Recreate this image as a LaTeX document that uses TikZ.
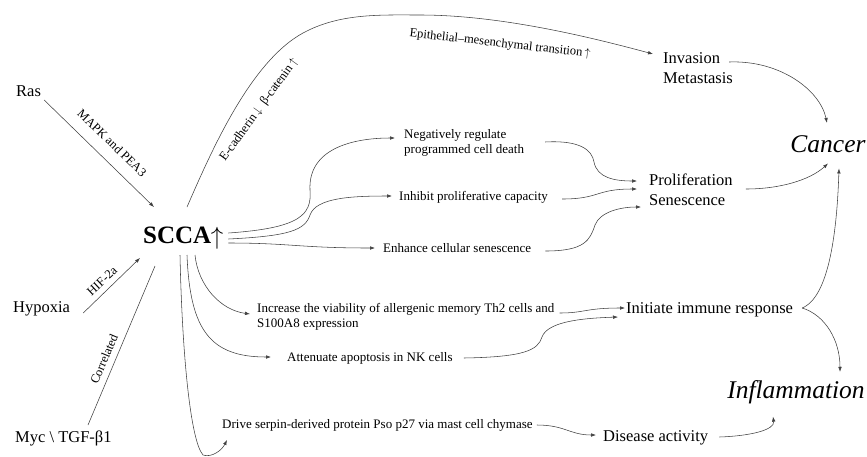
\documentclass[tikz,border=0pt]{standalone}
\usepackage{fontspec}
\setmainfont{Liberation Serif}[ItalicFont={Liberation Serif Italic},BoldFont={Liberation Serif Bold}]
\usetikzlibrary{arrows.meta,calc}
\begin{document}
\begin{tikzpicture}[x=1pt,y=-1pt,
  con/.style={black!75,line width=0.55pt},
  arr/.style={con,-{Latex[length=5pt,width=3.6pt]}},
  big/.style={font=\fontsize{16.5}{20.5}\selectfont,inner sep=0pt},
  small/.style={font=\fontsize{13}{15.5}\selectfont,inner sep=0pt},
  lab/.style={font=\fontsize{12.5}{14}\selectfont,inner sep=0pt},
  huge/.style={font=\fontsize{25.5}{30}\selectfont\itshape,inner sep=0pt}]
\useasboundingbox (0,0) rectangle (867,456);

% sources
\node[big,anchor=base west] (ras) at (16,96) {Ras};
\node[big,anchor=base west] (hyp) at (13,312) {Hypoxia};
\node[big,anchor=base west] (myc) at (15,442) {Myc \textbackslash{} TGF-β1};
\node[anchor=base west,inner sep=0pt,font=\fontsize{25}{30}\selectfont\bfseries] (scca) at (143,243) {SCCA};
\node[anchor=base,inner sep=0pt,font=\fontsize{27}{30}\selectfont] (up) at (217,244) {$\uparrow$};

% targets
\node[big,anchor=west,align=left] (inv) at (663,68) {Invasion\\Metastasis};
\node[big,anchor=west,align=left] (pro) at (649,190) {Proliferation\\Senescence};
\node[huge,anchor=base] (cancer) at (828,152) {Cancer};
\node[huge,anchor=base] (infl) at (796,398) {Inflammation};
\node[big,anchor=base west] (imm) at (626,313) {Initiate immune response};
\node[big,anchor=base west] (dis) at (603,441) {Disease activity};

% intermediate effects
\node[small,anchor=west,align=left] (neg) at (404,143) {Negatively regulate\\programmed cell death};
\node[small,anchor=base west] (inh) at (399,200) {Inhibit proliferative capacity};
\node[small,anchor=base west] (enh) at (383,252) {Enhance cellular senescence};
\node[small,anchor=west,align=left] (inc) at (257,317) {Increase the viability of allergenic memory Th2 cells and\\S100A8 expression};
\node[small,anchor=base west] (att) at (287,361) {Attenuate apoptosis in NK cells};
\node[small,anchor=base west] (drv) at (222,428) {Drive serpin-derived protein Pso p27 via mast cell chymase};

% edge labels
\node[lab,rotate=-44] (mapk) at (112,143) {MAPK and PEA3};
\node[lab,rotate=43] (hif) at (102,281) {HIF-2a};
\node[lab,rotate=67] (cor) at (104,359) {Correlated};
\node[lab,rotate=54] (ecad) at (259,110) {E-cadherin\,$\downarrow$\ \ β-catenin\,$\uparrow$};
\node[lab,rotate=-6.5] (emt) at (500,44) {Epithelial–mesenchymal transition\,$\uparrow$};

% inputs to SCCA
\draw[arr] ($(ras.base east)+(3,4)$) -- ($(scca.base west)+(11,-36)$);
\draw[arr] ($(hyp.base east)+(13,1)$) -- ($(scca.base west)+(-3,15)$);
\draw[con] ($(myc.base west)+(73,-17)$) -- ($(scca.base west)+(12,23)$);

% SCCA to invasion
\draw[arr] ($(scca.base west)+(44,-36)$) .. controls (211,152) and (250,62) .. (303,33)
  .. controls (340,13) and (380,15) .. (420,15)
  .. controls (500,15) and (590,37) .. ($(inv.west)+(-10,-14)$);

% SCCA to right-hand effects
\draw[arr] ($(scca.base east)+(17,-10)$) .. controls (300,228) and (312,215) .. (310,190)
  .. controls (308,150) and (350,138) .. ($(neg.west)+(-9,-5)$);
\draw[arr] ($(scca.base east)+(17,-4)$) .. controls (290,236) and (305,230) .. (310,215)
  .. controls (316,198) and (350,196) .. ($(inh.base west)+(-7,-4)$);
\draw[arr] ($(scca.base east)+(17,0)$) .. controls (290,243) and (300,248) .. ($(enh.base west)+(-8,-4)$);

% effects to proliferation
\draw[arr] ($(neg.east)+(21,-1)$) .. controls (580,140) and (592,150) .. (594,162)
  .. controls (597,178) and (615,181) .. ($(pro.west)+(-12,-9)$);
\draw[arr] ($(inh.base east)+(14,-1)$) .. controls (600,199) and (595,189) .. ($(pro.west)+(-12,-1)$);
\draw[arr] ($(enh.base east)+(14,-1)$) .. controls (585,251) and (590,240) .. (595,225)
  .. controls (600,212) and (620,207) .. ($(pro.west)+(-8,17)$);

% to cancer
\draw[arr] ($(pro.east)+(13,-1)$) .. controls (780,189) and (810,180) .. ($(cancer.south)+(0,11)$);
\draw[arr] ($(inv.west)+(66,-6)$) .. controls (780,60) and (820,90) .. ($(cancer.north)+(-1,-12)$);
\draw[arr] ($(imm.base east)+(9,-5)$) .. controls (822,300) and (836,260) .. ($(cancer.south)+(11,16)$);

% to inflammation
\draw[arr] ($(imm.base east)+(9,-5)$) .. controls (825,315) and (840,340) .. ($(infl.north)+(44,-8)$);
\draw[arr] ($(dis.base east)+(11,-4)$) .. controls (750,436) and (775,430) .. ($(infl.south)+(-23,13)$);

% lower effects
\draw[arr] ($(inc.east)+(5,-4)$) .. controls (585,313) and (585,308) .. ($(imm.base west)+(-1,-5)$);
\draw[arr] ($(att.base east)+(11,-3)$) .. controls (525,357) and (538,350) .. (542,337)
  .. controls (548,320) and (590,318) .. ($(imm.base west)+(-8,4)$);
\draw[arr] ($(drv.base east)+(4,-3)$) .. controls (565,425) and (570,435) .. ($(dis.base west)+(-7,-6)$);

% SCCA downwards
\draw[arr] ($(scca.base west)+(52,12)$) .. controls (198,285) and (220,310) .. ($(inc.west)+(-7,-3)$);
\draw[arr] ($(scca.base west)+(44,12)$) .. controls (190,330) and (210,357) .. ($(att.base west)+(-16,-4)$);
\draw[arr] ($(scca.base west)+(37,12)$) .. controls (182,350) and (190,440) .. (203,455)
  .. controls (212,458) and (222,450) .. ($(drv.base west)+(5,12)$);
\end{tikzpicture}
\end{document}
